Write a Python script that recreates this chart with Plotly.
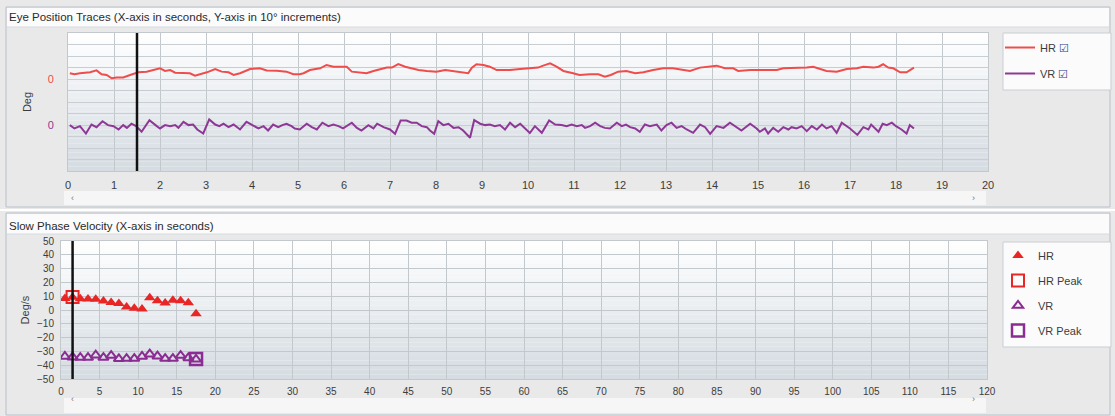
import plotly.graph_objects as go

W, H = 1115, 416

# ---------------- data ----------------
# Eye position traces (seconds, degrees relative to each trace's zero)
hr_t = [0.04, 0.14, 0.26, 0.48, 0.62, 0.73, 0.84, 0.95, 1.06, 1.2, 1.35, 1.53, 1.71, 1.86, 2.0, 2.11, 2.22,
        2.33, 2.51, 2.65, 2.76, 2.87, 3.02, 3.2, 3.34, 3.49, 3.6, 3.74, 3.96, 4.17, 4.32, 4.54, 4.75, 4.9,
        5.04, 5.12, 5.26, 5.48, 5.62, 5.77, 6.06, 6.17, 6.35, 6.49, 6.64, 6.78, 6.93, 7.04, 7.18, 7.33,
        7.47, 7.62, 7.8, 8.01, 8.2, 8.38, 8.52, 8.7, 8.78, 8.88, 9.03, 9.17, 9.32, 9.61, 9.83, 10.04,
        10.22, 10.33, 10.48, 10.62, 10.77, 10.98, 11.12, 11.35, 11.53, 11.67, 11.8, 11.96, 12.14, 12.33,
        12.51, 12.72, 12.94, 13.15, 13.34, 13.52, 13.74, 13.96, 14.1, 14.28, 14.46, 14.57, 14.83, 15.12,
        15.41, 15.55, 15.84, 16.06, 16.2, 16.35, 16.49, 16.71, 16.93, 17.15, 17.29, 17.51, 17.62, 17.72,
        17.83, 17.94, 18.09, 18.23, 18.3, 18.39]
hr_deg = [5.0, 4.1, 5.0, 5.8, 7.5, 4.1, 3.5, 0.6, 1.2, 1.4, 3.5, 5.8, 6.4, 7.8, 9.3, 7.0, 7.8,
          5.5, 5.0, 5.0, 2.9, 4.1, 5.8, 8.7, 6.4, 5.8, 3.5, 5.0, 8.7, 9.3, 7.5, 7.2, 6.4, 4.1,
          4.1, 5.0, 7.8, 9.3, 12.2, 10.7, 10.7, 6.4, 5.8, 5.0, 7.0, 8.1, 9.9, 9.9, 13.0, 10.7,
          9.3, 7.8, 7.0, 6.4, 7.8, 7.0, 5.8, 5.0, 9.9, 12.8, 12.2, 10.7, 7.8, 7.8, 8.7, 9.3,
          9.9, 11.6, 13.6, 10.7, 7.0, 5.0, 3.5, 4.1, 4.1, 2.0, 3.5, 6.4, 7.0, 5.0,
          5.8, 7.8, 9.3, 9.3, 7.8, 7.0, 9.9, 10.7, 11.6, 9.3, 9.3, 7.0, 7.8, 7.8,
          7.8, 9.3, 9.3, 9.9, 10.7, 8.7, 7.0, 6.4, 8.7, 9.3, 10.7, 9.9, 10.7, 12.8,
          9.9, 9.3, 5.8, 5.8, 7.8, 9.9]

vr_t = [0.04, 0.14, 0.26, 0.39, 0.51, 0.62, 0.75, 0.87, 0.99, 1.1, 1.2, 1.28, 1.38, 1.48, 1.6, 1.77, 1.93,
        2.0, 2.11, 2.22, 2.33, 2.4, 2.51, 2.62, 2.72, 2.81, 2.94, 3.07, 3.2, 3.29, 3.38, 3.49, 3.6, 3.74,
        3.88, 4.03, 4.14, 4.25, 4.35, 4.46, 4.57, 4.66, 4.75, 4.86, 4.93, 5.04, 5.19, 5.3, 5.41, 5.53,
        5.66, 5.77, 5.88, 5.98, 6.17, 6.28, 6.38, 6.53, 6.64, 6.72, 6.86, 7.0, 7.11, 7.23, 7.36, 7.47,
        7.58, 7.69, 7.8, 7.87, 7.96, 8.05, 8.16, 8.27, 8.38, 8.49, 8.59, 8.74, 8.83, 8.96, 9.07, 9.17,
        9.28, 9.39, 9.5, 9.61, 9.72, 9.83, 9.93, 10.04, 10.15, 10.3, 10.46, 10.59, 10.73, 10.84, 10.95,
        11.06, 11.17, 11.24, 11.35, 11.46, 11.57, 11.67, 11.78, 11.93, 12.04, 12.13, 12.22, 12.33, 12.43,
        12.54, 12.65, 12.8, 12.9, 13.01, 13.12, 13.23, 13.34, 13.45, 13.59, 13.74, 13.85, 13.96, 14.1,
        14.25, 14.39, 14.5, 14.64, 14.83, 14.97, 15.04, 15.15, 15.22, 15.33, 15.44, 15.55, 15.66, 15.73,
        15.84, 15.95, 16.06, 16.17, 16.28, 16.39, 16.49, 16.6, 16.71, 16.82, 17.0, 17.16, 17.29, 17.4,
        17.46, 17.62, 17.71, 17.8, 17.91, 18.0, 18.12, 18.23, 18.3, 18.39]
vr_deg = [-0.1, -3.0, -1.0, -7.4, 0.4, -1.9, 3.3, -0.1, -1.0, -3.9, -0.1, -2.5, 1.1, -1.0, -5.9, 4.2, -1.0,
          -3.0, -0.1, -1.0, -0.1, -2.5, 2.7, -0.1, 0.4, -3.9, -7.4, 4.8, 0.4, -1.0, 1.1, -1.9, 0.4, -3.9,
          2.7, -1.0, -3.0, -1.0, -4.8, 0.4, -1.9, -0.1, 1.1, -1.0, -3.0, -3.9, 1.1, -1.9, -3.9, 2.0,
          -1.0, 0.4, -1.0, -3.0, 2.0, -2.5, -4.8, -0.1, -3.0, 1.1, -1.9, -3.9, -7.7, 3.9, 3.9, 2.0,
          2.0, -1.0, -1.9, -4.8, -7.7, 3.3, -0.1, 1.1, -2.5, -1.9, -4.8, -11.1, 4.2, 1.1, -0.1, 0.4,
          -1.0, -0.1, -3.9, 2.0, -1.9, 1.1, -3.0, -7.0, -1.0, -6.8, 3.9, 0.4, -0.1, -1.0, 0.4,
          -1.0, -0.1, -2.5, -1.0, 2.0, -1.0, -2.5, -3.0, 2.0, -1.0, 0.4, -1.9, -3.0, -5.9,
          0.4, -1.0, 0.4, -4.8, -0.1, 2.0, -2.5, -1.0, -3.9, -6.8, 0.4, -1.9, -7.7, -1.0,
          -2.5, 2.0, -1.0, -4.8, 1.1, -3.0, -5.9, -3.0, -7.4, -2.5, -5.9, -1.9, -3.9, -1.9,
          -3.0, -1.0, -5.4, -1.0, -3.9, 0.4, -3.0, -1.0, -6.8, 2.0, -3.0, -8.6, -1.9, -3.9,
          0.4, -5.9, 1.1, -0.1, 2.0, -1.0, -3.9, -7.4, -0.1, -3.0]

# Slow phase velocity (seconds, deg/s)
spv_t = [0.5, 1.5, 2.5, 3.5, 4.5, 5.5, 6.5, 7.5, 8.5, 9.5, 10.5, 11.5, 12.5, 13.5, 14.5, 15.5, 16.5, 17.5]
hr_spv = [8.4, 9.2, 8.2, 8.0, 7.7, 6.5, 5.5, 4.8, 2.2, 1.2, 0.7, 8.9, 6.7, 5.1, 7.0, 6.7, 5.3, -2.7]
vr_spv = [-33.7, -34.2, -34.5, -34.5, -32.8, -34.5, -33.0, -35.4, -35.2, -35.2, -33.7, -32.0, -33.5,
          -35.2, -35.2, -33.0, -34.7, -35.7]
hr_peak_t, hr_peak = [1.5], [9.5]
vr_peak_t, vr_peak = [17.5], [-35.5]

cursor_t = 1.5

eye_x_ticks = list(range(0, 21))
spv_x_ticks = list(range(0, 121, 5))
spv_y_ticks = list(range(-50, 51, 10))

# ---------------- style ----------------
HR_LINE = "#ef4c4c"
VR_LINE = "#8e3896"
HR_MARK = "#e82626"
VR_MARK = "#8a2c92"
GRID_V = "#c3c8cd"
GRID_H = "#c9ced4"
TXT = "#3c3c3c"
FONT = "Liberation Sans"
HR_ZERO, VR_ZERO = 80, 40
CHECK = " <span style='color:#2e3a8c'>\u2611</span>"


def X(p):
    return p / W


def Y(p):
    return 1 - p / H


fig = go.Figure()

fig.add_trace(go.Scatter(x=hr_t, y=[HR_ZERO + v for v in hr_deg], mode="lines", name="HR" + CHECK,
                         line=dict(color=HR_LINE, width=2), xaxis="x", yaxis="y",
                         legend="legend", legendgroup="a"))
fig.add_trace(go.Scatter(x=vr_t, y=[VR_ZERO + v for v in vr_deg], mode="lines", name="VR" + CHECK,
                         line=dict(color=VR_LINE, width=2), xaxis="x", yaxis="y",
                         legend="legend", legendgroup="b"))

fig.add_trace(go.Scatter(x=spv_t, y=hr_spv, mode="markers", name="HR",
                         marker=dict(symbol="triangle-up", size=10, color=HR_MARK),
                         xaxis="x2", yaxis="y2", legend="legend2", legendgroup="c"))
fig.add_trace(go.Scatter(x=hr_peak_t, y=hr_peak, mode="markers", name="HR Peak",
                         marker=dict(symbol="square-open", size=12, color=HR_MARK, line=dict(width=2)),
                         xaxis="x2", yaxis="y2", legend="legend2", legendgroup="d"))
fig.add_trace(go.Scatter(x=spv_t, y=vr_spv, mode="markers", name="VR",
                         marker=dict(symbol="triangle-up-open", size=9, color=VR_MARK, line=dict(width=2)),
                         xaxis="x2", yaxis="y2", legend="legend2", legendgroup="e"))
fig.add_trace(go.Scatter(x=vr_peak_t, y=vr_peak, mode="markers", name="VR Peak",
                         marker=dict(symbol="square-open", size=12, color=VR_MARK, line=dict(width=2.5)),
                         xaxis="x2", yaxis="y2", legend="legend2", legendgroup="f"))

# y tick labels for the eye-position chart: a coloured "0" at each trace's zero line
eye_y_vals = list(range(0, 121, 10))
eye_y_text = []
for v in eye_y_vals:
    if v == HR_ZERO:
        eye_y_text.append(f"<span style='color:{HR_LINE}'>0</span>")
    elif v == VR_ZERO:
        eye_y_text.append(f"<span style='color:{VR_LINE}'>0</span>")
    else:
        eye_y_text.append("")

shapes = []

# panel frames and title strips
for (top, bot, tb) in [(7, 207, 27), (213, 415, 234)]:
    shapes.append(dict(type="rect", xref="paper", yref="paper", x0=X(7), x1=X(1109), y0=Y(top + 1), y1=Y(tb),
                       fillcolor="#fbfbfc", line=dict(width=0), layer="below"))
    shapes.append(dict(type="line", xref="paper", yref="paper", x0=X(7), x1=X(1109), y0=Y(tb), y1=Y(tb),
                       line=dict(color="#d6dbe0", width=1), layer="below"))
    shapes.append(dict(type="rect", xref="paper", yref="paper", x0=X(6), x1=X(1110), y0=Y(top), y1=Y(bot),
                       fillcolor="rgba(0,0,0,0)", line=dict(color="#b9c0c8", width=1), layer="below"))

# separator between panels
shapes.append(dict(type="line", xref="paper", yref="paper", x0=0, x1=1, y0=Y(210), y1=Y(210),
                   line=dict(color="#ffffff", width=2), layer="below"))

# scrollbars
for (x0, x1, y0, y1) in [(64, 986, 191, 205), (64, 986, 398, 413)]:
    shapes.append(dict(type="rect", xref="paper", yref="paper", x0=X(x0), x1=X(x1), y0=Y(y0), y1=Y(y1),
                       fillcolor="#f6f6f6", line=dict(width=0), layer="below"))

# legend boxes
for (y0, y1) in [(33, 90), (242, 347)]:
    shapes.append(dict(type="rect", xref="paper", yref="paper", x0=X(1003), x1=X(1111), y0=Y(y0), y1=Y(y1),
                       fillcolor="#fbfbfc", line=dict(color="#c9ced4", width=1), layer="below"))

# plot-area vertical gradient (white at top to light blue-grey at bottom)
N = 30
top_rgb = (255, 255, 255)
bot_rgb = (212, 219, 226)
for xr, yr in [("x", "y"), ("x2", "y2")]:
    for i in range(N):
        f = (i + 0.5) / N
        c = tuple(round(top_rgb[k] + (bot_rgb[k] - top_rgb[k]) * f) for k in range(3))
        shapes.append(dict(type="rect", xref=f"{xr} domain", yref=f"{yr} domain", x0=0, x1=1,
                           y0=1 - (i + 1) / N, y1=1 - i / N, fillcolor=f"rgb{c}", line=dict(width=0),
                           layer="below"))

# cursor lines
for xr, yr in [("x", "y"), ("x2", "y2")]:
    shapes.append(dict(type="line", xref=xr, yref=f"{yr} domain", x0=cursor_t, x1=cursor_t, y0=0, y1=1,
                       line=dict(color="#111111", width=2.5), layer="above"))

annotations = [
    dict(text="Eye Position Traces (X-axis in seconds, Y-axis in 10\u00b0 increments)", xref="paper", yref="paper",
         x=X(7), y=Y(17), xanchor="left", yanchor="middle", showarrow=False,
         font=dict(family=FONT, size=11.5, color="#2a2a2a")),
    dict(text="Slow Phase Velocity (X-axis in seconds)", xref="paper", yref="paper",
         x=X(7), y=Y(226), xanchor="left", yanchor="middle", showarrow=False,
         font=dict(family=FONT, size=11.5, color="#2a2a2a")),
]
for (ax, ay) in [(69, 198), (977, 198), (69, 406), (977, 406)]:
    annotations.append(dict(text="\u2039" if ax < 500 else "\u203a", xref="paper", yref="paper", x=X(ax), y=Y(ay),
                            showarrow=False, font=dict(family=FONT, size=9, color="#777777")))

axis_common = dict(showgrid=True, zeroline=False, showline=True, mirror=True, linecolor=GRID_V,
                   automargin=False, ticks="outside", tickcolor="rgba(0,0,0,0)",
                   tickfont=dict(family=FONT, size=11, color=TXT))

fig.update_layout(
    width=W, height=H, margin=dict(l=0, r=0, t=0, b=0), autosize=False,
    paper_bgcolor="#e9e9e9", plot_bgcolor="#ffffff",
    font=dict(family=FONT, size=11, color=TXT),
    xaxis=dict(domain=[X(68), X(988)], range=[0, 20], tickvals=eye_x_ticks, anchor="y",
               gridcolor=GRID_V, ticklen=4, **axis_common),
    yaxis=dict(domain=[Y(171), Y(33)], range=[0, 120], tickvals=eye_y_vals, ticktext=eye_y_text, anchor="x",
               gridcolor=GRID_H, ticklen=11,
               title=dict(text="Deg", standoff=13, font=dict(family=FONT, size=11, color=TXT)),
               **axis_common),
    xaxis2=dict(domain=[X(61), X(987)], range=[0, 120], tickvals=spv_x_ticks, anchor="y2",
                gridcolor=GRID_V, ticklen=3, **{**axis_common, "tickfont": dict(family=FONT, size=10, color=TXT)}),
    yaxis2=dict(domain=[Y(379), Y(241)], range=[-50, 50], tickvals=spv_y_ticks, anchor="x2",
                gridcolor=GRID_V, ticklen=4,
                title=dict(text="Deg/s", standoff=5, font=dict(family=FONT, size=11, color=TXT)),
                **{**axis_common, "tickfont": dict(family=FONT, size=10, color=TXT)}),
    legend=dict(x=X(1000), y=Y(33), xanchor="left", yanchor="top", bgcolor="rgba(0,0,0,0)",
                tracegroupgap=7, itemwidth=30, font=dict(family=FONT, size=11, color=TXT)),
    legend2=dict(x=X(998), y=Y(241), xanchor="left", yanchor="top", bgcolor="rgba(0,0,0,0)",
                 tracegroupgap=6, itemwidth=30, font=dict(family=FONT, size=11, color=TXT)),
    shapes=shapes,
    annotations=annotations,
    showlegend=True,
)

fig.write_html("out.html", config={"displayModeBar": False},
               post_script="document.body.style.margin='0';document.body.style.overflow='hidden';")
